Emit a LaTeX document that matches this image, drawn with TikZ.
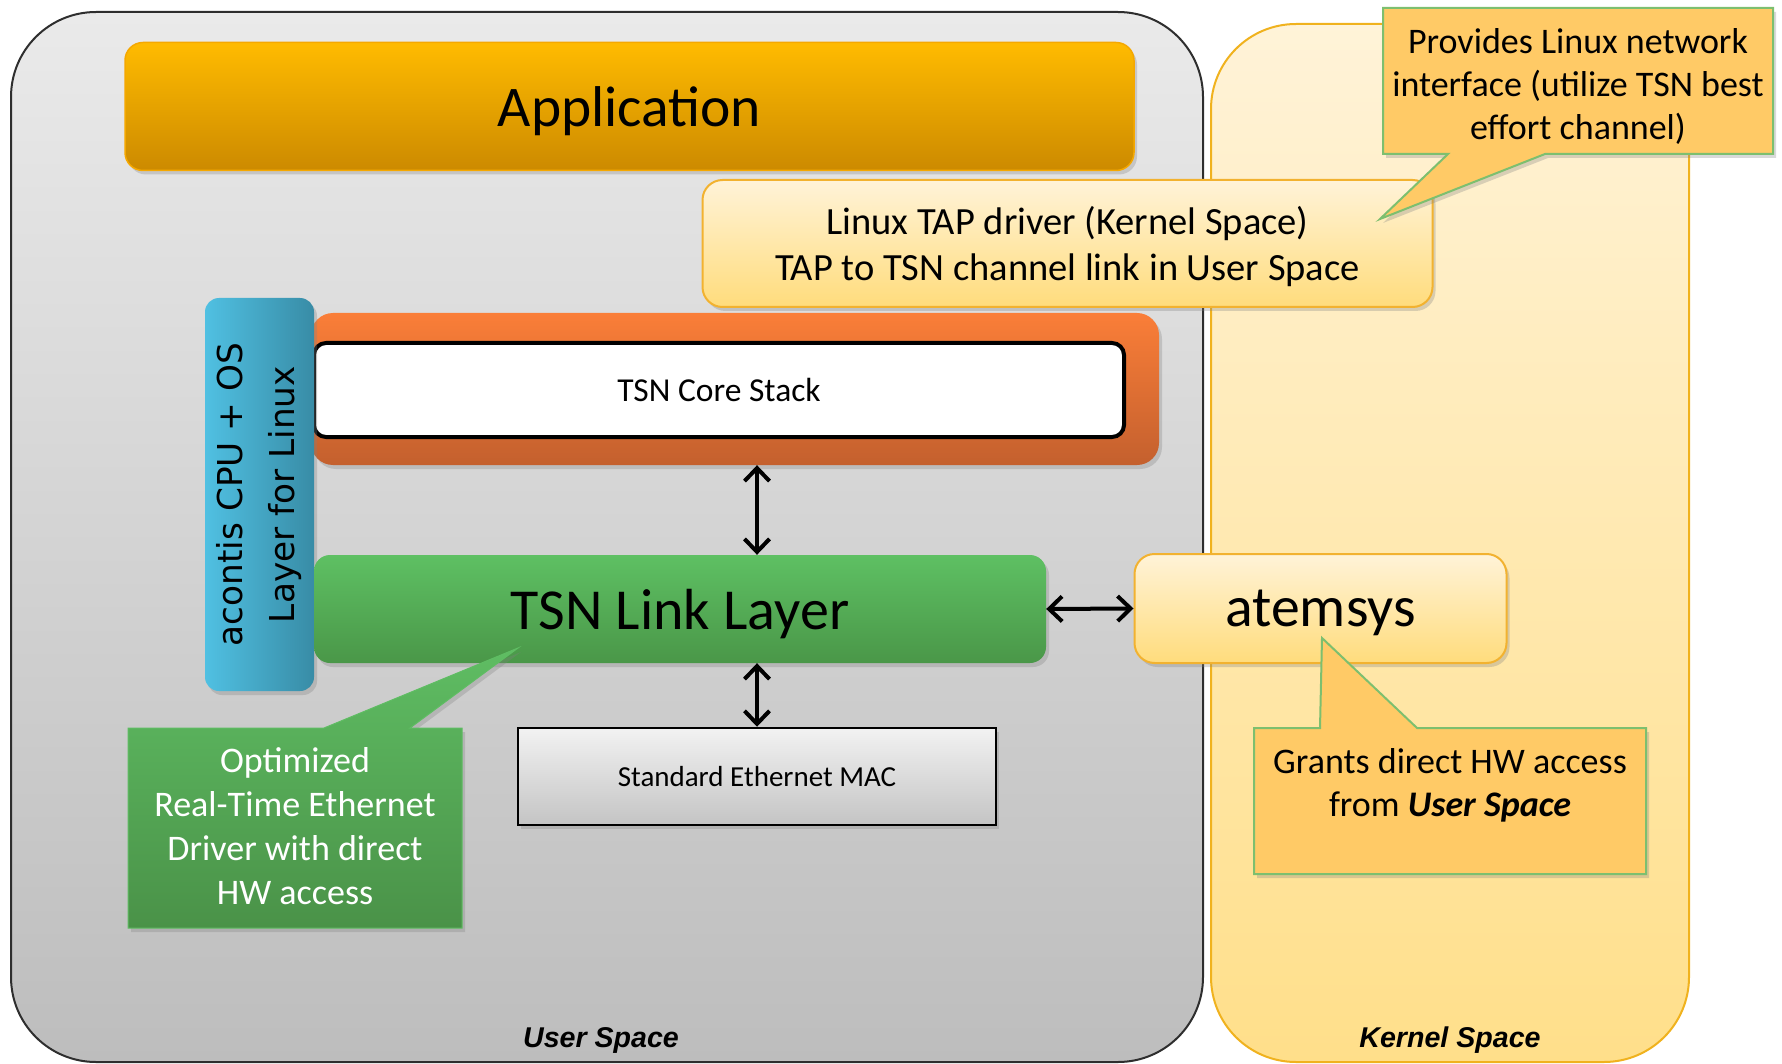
\documentclass[tikz,border=0pt]{standalone}
\usepackage{fontspec}
\setmainfont{Carlito}
\newfontfamily\spacefont{Liberation Sans}
\newfontfamily\cpufont{DejaVu Sans}
\usetikzlibrary{arrows.meta,shadows}

\definecolor{usrtop}{HTML}{EAEAEA}
\definecolor{usrbot}{HTML}{BDBDBD}
\definecolor{usrline}{HTML}{2E2E2E}
\definecolor{kertop}{HTML}{FFF3D8}
\definecolor{kerbot}{HTML}{FFDF8A}
\definecolor{kerline}{HTML}{F0B21E}
\definecolor{apptop}{HTML}{FFBB00}
\definecolor{appbot}{HTML}{CC8A00}
\definecolor{appline}{HTML}{F5A800}
\definecolor{yeltop}{HTML}{FFF3D8}
\definecolor{yelbot}{HTML}{FFDC7C}
\definecolor{yelline}{HTML}{F2B230}
\definecolor{coretop}{HTML}{FA7E38}
\definecolor{corebot}{HTML}{C4602E}
\definecolor{cpulight}{HTML}{50C0E2}
\definecolor{cpudark}{HTML}{388CA6}
\definecolor{linktop}{HTML}{5EC063}
\definecolor{linkbot}{HTML}{4A9748}
\definecolor{mactop}{HTML}{F2F2F2}
\definecolor{macbot}{HTML}{C4C4C4}
\definecolor{notefill}{HTML}{FFCA66}
\definecolor{noteline}{HTML}{7DBF6F}
\definecolor{drvtop}{HTML}{5FBD63}
\definecolor{drvbot}{HTML}{4A9248}

\newcommand\setfs[2]{\fontsize{#1pt}{#2pt}\selectfont}

\begin{document}
\begin{tikzpicture}[x=1pt,y=-1pt,
  softshadow/.style={drop shadow={opacity=.3,shadow xshift=3pt,shadow yshift=-4pt}},
  region/.style={rounded corners=85pt,line width=2pt},
  spacelabel/.style={font=\spacefont\bfseries\itshape\setfs{28.6}{34}},
  yellowbox/.style={rounded corners=20pt,draw=yelline,line width=2pt,top color=yeltop,bottom color=yelbot,align=center,text depth=0pt,softshadow},
  notecall/.style={draw=noteline,line width=2pt,fill=notefill,softshadow},
  notetext/.style={align=center,font=\setfs{36}{43}},
  dblarrow/.style={{Straight Barb[length=13pt,width=25pt]}-{Straight Barb[length=13pt,width=25pt]},line width=4pt}
]
\useasboundingbox (0,0) rectangle (1782,1064);

% user and kernel space
\node[region,draw=usrline,top color=usrtop,bottom color=usrbot,minimum width=1192pt,minimum height=1050pt] (user) at (607,537) {};
\node[region,draw=kerline,top color=kertop,bottom color=kerbot,minimum width=478pt,minimum height=1038pt] (kernel) at (1450,543) {};
\node[spacelabel] (userlbl) at (601,1040) {User Space};
\node[spacelabel] (kernellbl) at (1450,1040) {Kernel Space};

% application
\node[rounded corners=18pt,draw=appline,line width=1.5pt,top color=apptop,bottom color=appbot,minimum width=1009pt,minimum height=128pt,font=\setfs{57.5}{68},text depth=0pt,softshadow] (app) at (629.5,106.5) {Application};

% tap driver
\node[yellowbox,minimum width=730pt,minimum height=127pt,font=\setfs{38.5}{46.6}] (tap) at (1067.5,243.5) {Linux TAP driver (Kernel Space)\\TAP to TSN channel link in User Space};

% stack
\node[rounded corners=22pt,top color=coretop,bottom color=corebot,minimum width=848pt,minimum height=152pt,softshadow] (core) at (735,389) {};
\node[rounded corners=12pt,draw=black,line width=4pt,fill=white,minimum width=810pt,minimum height=94pt,font=\setfs{33.5}{40}] (stack) at (719,390) {TSN Core Stack};
\node[rounded corners=14pt,rotate=90,left color=cpulight,right color=cpudark,minimum width=393pt,minimum height=109pt,align=center,font=\cpufont\setfs{34.3}{52},softshadow] (cpu) at (259.5,494.5) {acontis CPU + OS\\Layer for Linux};
\node[rounded corners=16pt,top color=linktop,bottom color=linkbot,minimum width=732pt,minimum height=108pt,font=\setfs{58}{68},text depth=0pt,softshadow] (link) at (680,609) {TSN Link Layer};
\node[yellowbox,minimum width=372pt,minimum height=109pt,font=\setfs{57.7}{68}] (atemsys) at (1320.5,608.5) {atemsys};
\node[draw=black,line width=2.5pt,top color=mactop,bottom color=macbot,minimum width=478pt,minimum height=97pt,font=\setfs{29}{34},softshadow] (mac) at (757,776.5) {Standard Ethernet MAC};

\path[dblarrow]
  (mac.north |- core.south) edge (mac.north |- link.north)
  (link.south -| mac.north) edge (mac.north)
  (link.east) edge (atemsys.west);

% callouts
\draw[notecall] (1383,8) -- (1773,8) -- (1773,154) -- (1545,154) -- (1380,219) -- (1448,154) -- (1383,154) -- cycle;
\node[notetext] (provides) at (1578,87) {Provides Linux network\\interface (utilize TSN best\\effort channel)};

\draw[notecall] (1254,728) -- (1320,728) -- (1322,638) -- (1417,728) -- (1646,728) -- (1646,874) -- (1254,874) -- cycle;
\node[notetext] (grants) at (1450,785) {Grants direct HW access\\from \textbf{\textit{User Space}}};

\draw[top color=drvtop,bottom color=drvbot,draw=drvtop,line width=1pt,softshadow] (128,728) -- (324,728) -- (518,648) -- (410,728) -- (462,728) -- (462,928) -- (128,928) -- cycle;
\node[align=center,text=white,font=\setfs{36}{44}] (drv) at (295,826) {Optimized\\Real-Time Ethernet\\Driver with direct\\HW access};
\end{tikzpicture}
\end{document}
